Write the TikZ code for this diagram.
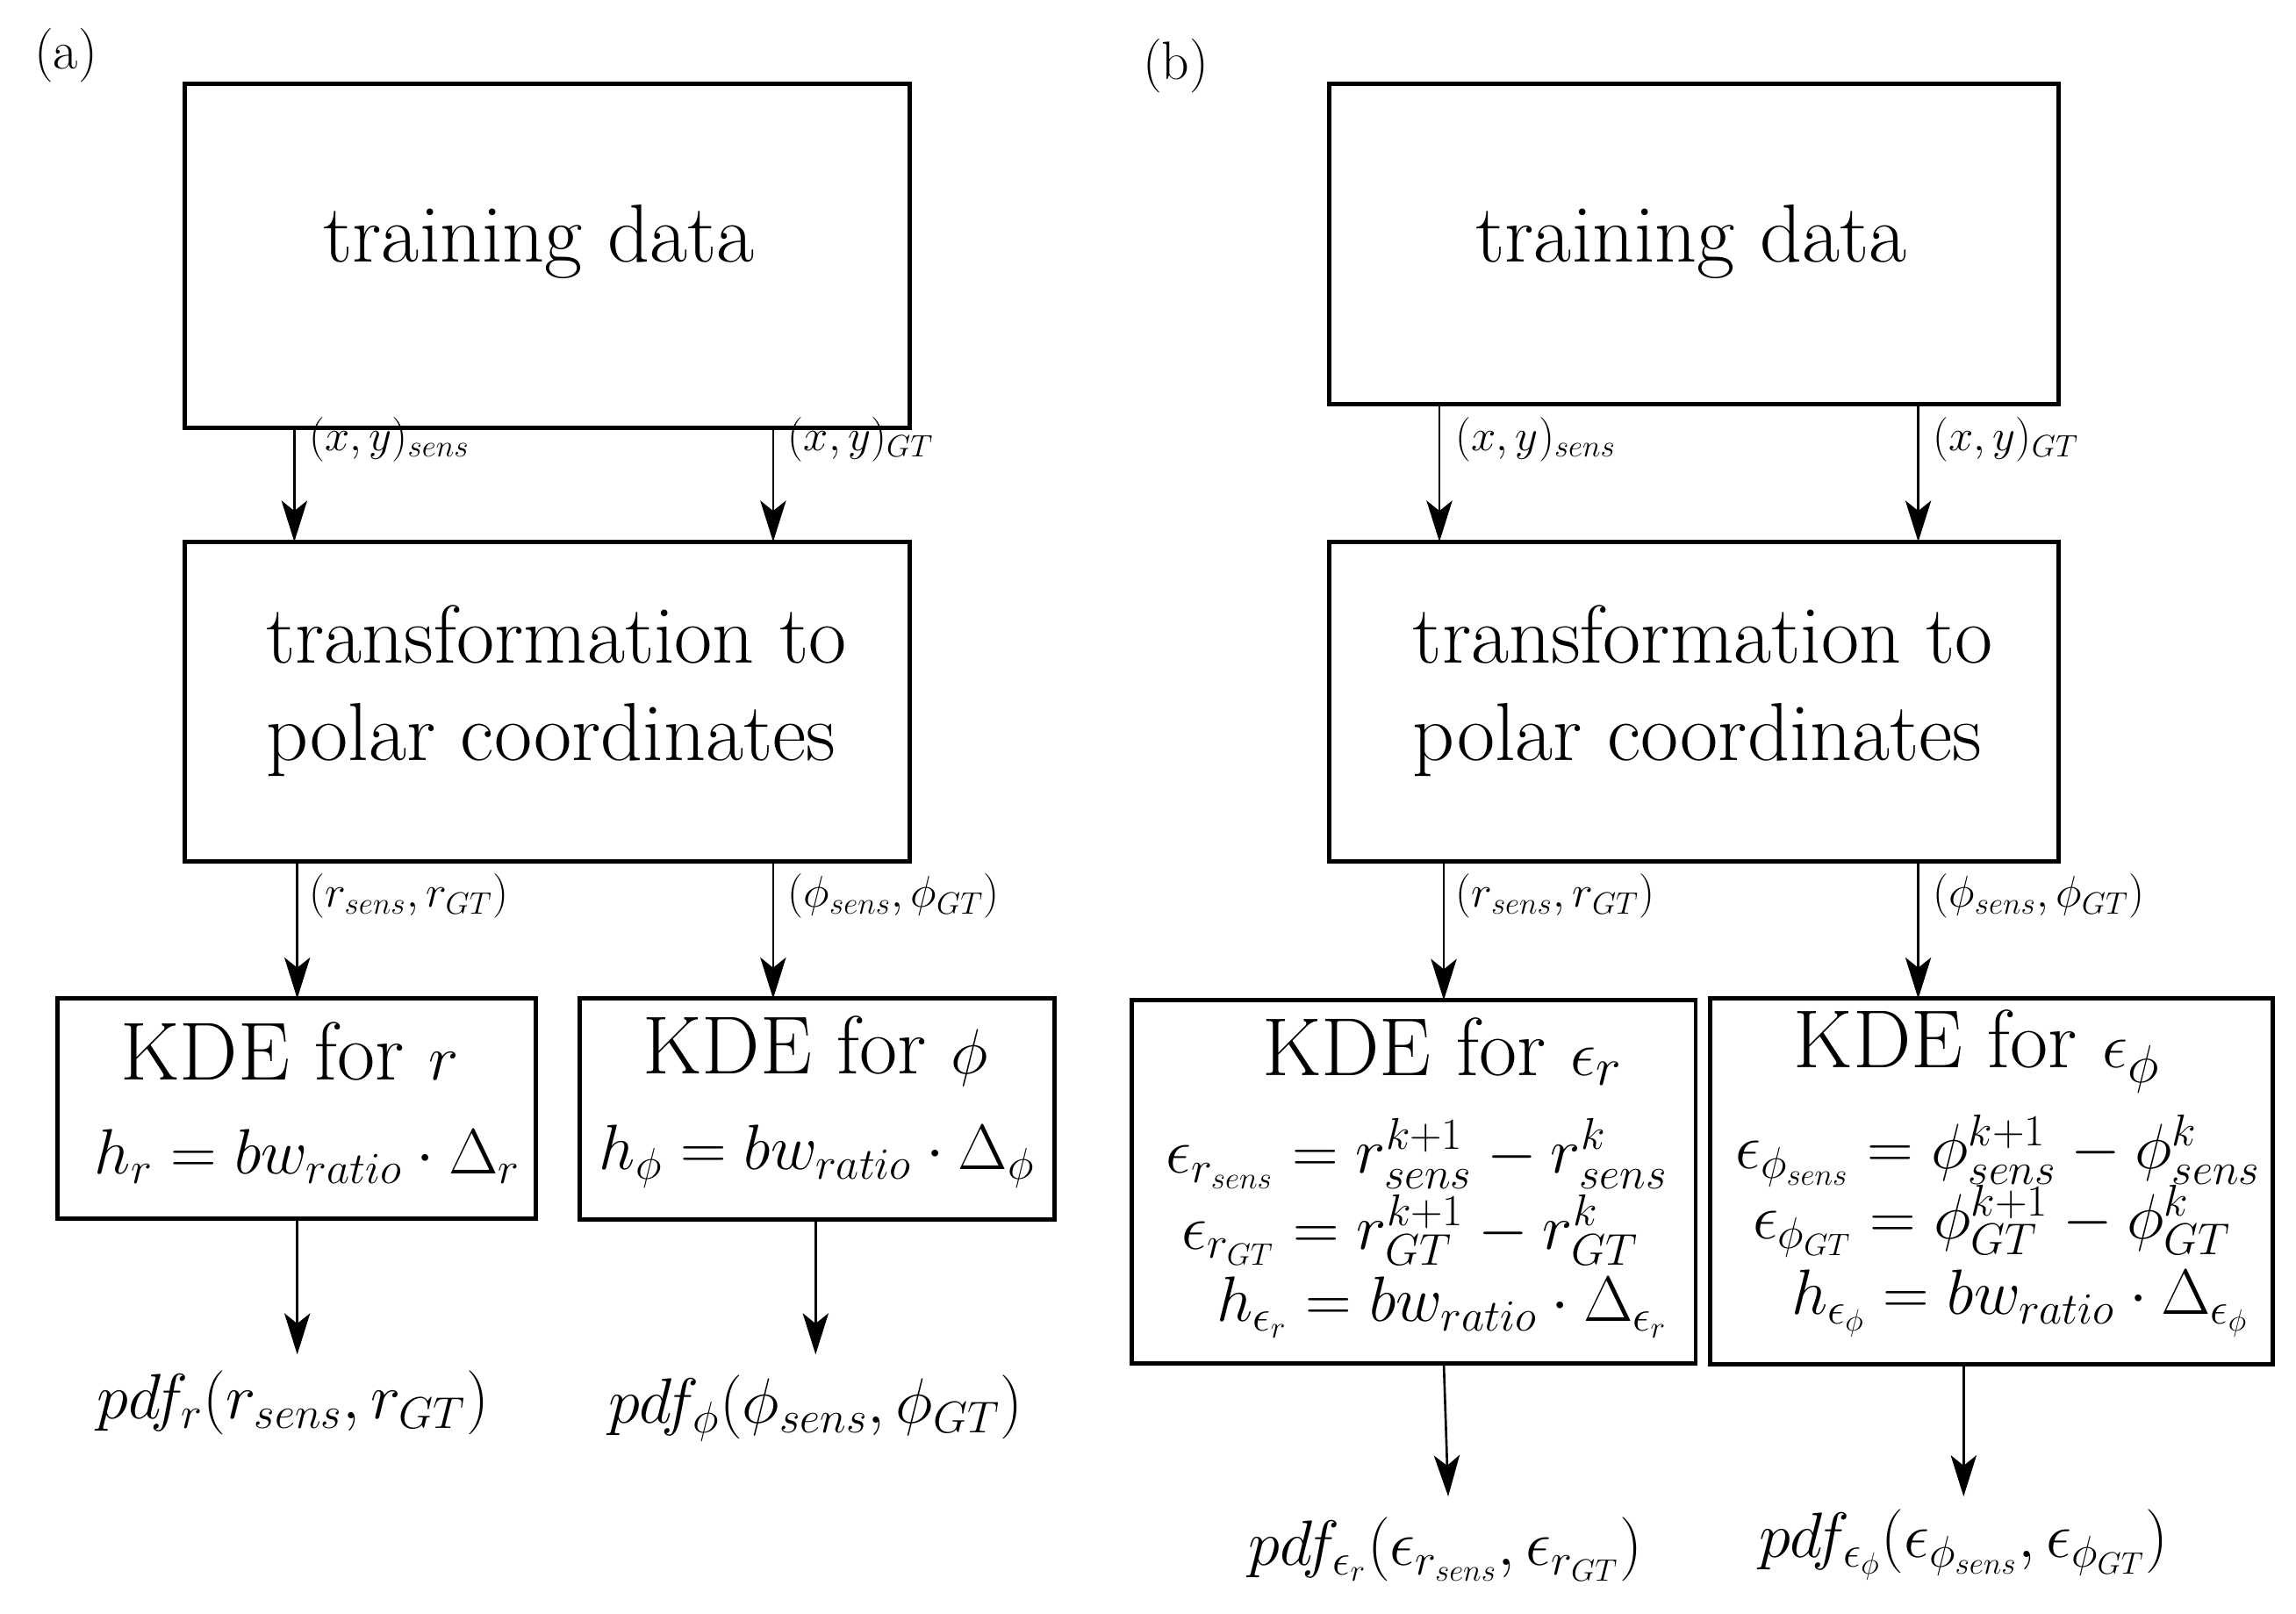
\documentclass[tikz,border=0pt]{standalone}
\usetikzlibrary{arrows.meta}
\begin{document}
\begin{tikzpicture}[x=0.02cm,y=-0.02cm,
 box/.style={draw,line width=1.7pt},
 ar/.style={line width=0.9pt,-{Stealth[length=16pt,width=10pt,inset=4pt]}},
 big/.style={font=\fontsize{32}{38}\selectfont},
 eq/.style={font=\fontsize{24}{28}\selectfont},
 lab/.style={font=\fontsize{17.5}{21}\selectfont,anchor=west},
 pdf/.style={font=\fontsize{25}{30}\selectfont}]
\path[use as bounding box] (0,0) rectangle (1568,1102);
\node[font=\fontsize{21}{25}\selectfont] (la) at (45,38) {(a)};
\node[font=\fontsize{21}{25}\selectfont] (lb) at (803,45) {(b)};
% (a)
\draw[box] (126,57) rectangle (621,292);
\node[big] (ta) at (368,165) {training data};
\draw[box] (126,370) rectangle (621,588);
\node[big,align=left] (pa) at (380,472) {transformation to\\polar coordinates};
\draw[box] (39,682) rectangle (366,832);
\node[big] (ka) at (198,718) {KDE for $r$};
\node[eq] (ka2) at (210,790) {$h_r=bw_{ratio}\cdot\Delta_r$};
\draw[box] (396,682) rectangle (720,833);
\node[big] (kb) at (557,718) {KDE for $\phi$};
\node[eq] (kb2) at (558,790) {$h_\phi=bw_{ratio}\cdot\Delta_\phi$};
\coordinate (a1) at (201,292); \coordinate (a1e) at (201,370);
\coordinate (a2) at (528,292); \coordinate (a2e) at (528,370);
\coordinate (a3) at (203,588); \coordinate (a3e) at (203,682);
\coordinate (a4) at (528,588); \coordinate (a4e) at (528,682);
\coordinate (a5) at (203,832); \coordinate (a5e) at (203,925);
\coordinate (a6) at (557,833); \coordinate (a6e) at (557,925);
\foreach \s in {a1,a2,a3,a4,a5,a6}{\draw[ar] (\s) -- (\s e);}
\node[lab] (l1) at (205,300) {$(x,y)_{sens}$};
\node[lab] (l2) at (532,300) {$(x,y)_{GT}$};
\node[lab] (l3) at (205,612) {$(r_{sens},r_{GT})$};
\node[lab] (l4) at (532,612) {$(\phi_{sens},\phi_{GT})$};
\node[pdf] (p1) at (200,958) {$pdf_r(r_{sens},r_{GT})$};
\node[pdf] (p2) at (557,962) {$pdf_\phi(\phi_{sens},\phi_{GT})$};
% (b)
\draw[box] (908,57) rectangle (1406,276);
\node[big] (tb) at (1155,165) {training data};
\draw[box] (908,370) rectangle (1406,588);
\node[big,align=left] (pb) at (1163,472) {transformation to\\polar coordinates};
\draw[box] (773,683) rectangle (1158,931);
\node[big] (kc) at (985,718) {KDE for $\epsilon_r$};
\node[eq,anchor=east] (kc2) at (1145,788) {$\epsilon_{r_{sens}}=r_{sens}^{k+1}-r_{sens}^{k}$};
\node[eq,anchor=east] (kc3) at (1125,840) {$\epsilon_{r_{GT}}=r_{GT}^{k+1}-r_{GT}^{k}$};
\node[eq,anchor=east] (kc4) at (1145,893) {$h_{\epsilon_r}=bw_{ratio}\cdot\Delta_{\epsilon_r}$};
\draw[box] (1168,682) rectangle (1552,932);
\node[big] (kd) at (1350,718) {KDE for $\epsilon_\phi$};
\node[eq,anchor=east] (kd2) at (1550,786) {$\epsilon_{\phi_{sens}}=\phi_{sens}^{k+1}-\phi_{sens}^{k}$};
\node[eq,anchor=east] (kd3) at (1530,834) {$\epsilon_{\phi_{GT}}=\phi_{GT}^{k+1}-\phi_{GT}^{k}$};
\node[eq,anchor=east] (kd4) at (1542,890) {$h_{\epsilon_\phi}=bw_{ratio}\cdot\Delta_{\epsilon_\phi}$};
\coordinate (b1) at (983,276); \coordinate (b1e) at (983,370);
\coordinate (b2) at (1310,276); \coordinate (b2e) at (1310,370);
\coordinate (b3) at (986,588); \coordinate (b3e) at (986,683);
\coordinate (b4) at (1310,588); \coordinate (b4e) at (1310,682);
\coordinate (b5) at (986,931); \coordinate (b5e) at (989,1022);
\coordinate (b6) at (1341,932); \coordinate (b6e) at (1341,1022);
\foreach \s in {b1,b2,b3,b4,b5,b6}{\draw[ar] (\s) -- (\s e);}
\node[lab] (m1) at (988,300) {$(x,y)_{sens}$};
\node[lab] (m2) at (1314,300) {$(x,y)_{GT}$};
\node[lab] (m3) at (988,612) {$(r_{sens},r_{GT})$};
\node[lab] (m4) at (1314,612) {$(\phi_{sens},\phi_{GT})$};
\node[pdf] (q1) at (987,1058) {$pdf_{\epsilon_r}(\epsilon_{r_{sens}},\epsilon_{r_{GT}})$};
\node[pdf] (q2) at (1341,1055) {$pdf_{\epsilon_\phi}(\epsilon_{\phi_{sens}},\epsilon_{\phi_{GT}})$};
\end{tikzpicture}
\end{document}
